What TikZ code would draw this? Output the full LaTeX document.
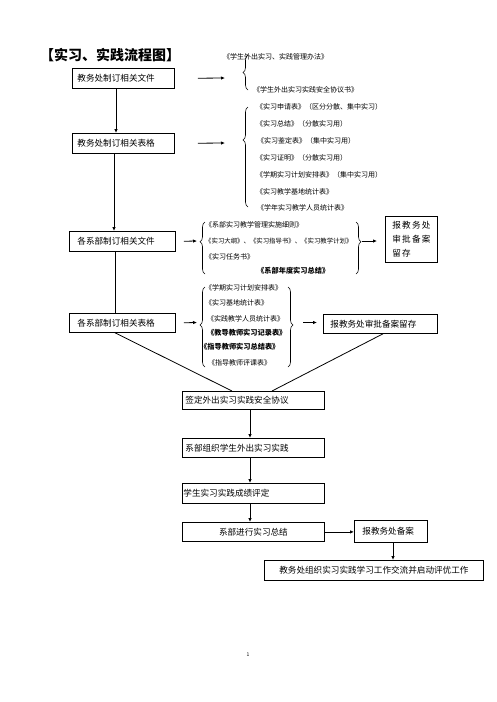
\documentclass[tikz,border=0pt]{standalone}
\usepackage{fontspec}
\setmainfont{Noto Sans CJK SC}
\usetikzlibrary{decorations.pathreplacing,calc,arrows.meta}
\begin{document}
\begin{tikzpicture}[x=1pt,y=-1pt,
 box/.style={draw, line width=0.8pt, anchor=north west, inner ysep=0pt, font=\fontsize{8.6}{10}\selectfont, align=left},
 lbl/.style={anchor=west, inner sep=0pt, font=\fontsize{7}{8}\selectfont},
 blbl/.style={anchor=west, inner sep=0pt, font=\fontsize{7.2}{8}\selectfont\bfseries},
 arr/.style={line width=0.8pt, -{Latex[length=4pt,width=3.5pt]}},
 ln/.style={line width=0.8pt},
 br/.style={line width=0.6pt, decorate, decoration={brace, amplitude=5pt, aspect=#1}}
]
\useasboundingbox (0,0) rectangle (496,702);

\node[anchor=west, inner sep=0pt, font=\fontsize{14}{16}\selectfont\bfseries] (title) at (40,55) {【实习、实践流程图】};

% boxes
\node[box, minimum height=20pt, text width=92pt, inner xsep=5pt] (b1) at (72,68) {教务处制订相关文件};
\node[box, minimum height=20pt, text width=92pt, inner xsep=5pt] (b2) at (72,133) {教务处制订相关表格};
\node[box, minimum height=20pt, text width=90pt, inner xsep=8pt] (b3) at (69,231) {各系部制订相关文件};
\node[box, minimum height=19pt, text width=90pt, inner xsep=8pt] (b4) at (69,313) {各系部制订相关表格};
\node[box, minimum height=46pt, text width=42pt, inner xsep=5pt, font=\fontsize{8.6}{14}\selectfont] (r1) at (385,216) {\hspace*{2pt}报\hspace{1.2pt}教\hspace{1.2pt}务\hspace{1.2pt}处\\\hspace*{2pt}审\hspace{1.2pt}批\hspace{1.2pt}备\hspace{1.2pt}案\\\hspace*{2pt}留\hspace{1.2pt}存};
\node[box, minimum height=19pt, text width=100pt, inner xsep=7pt] (r2) at (323,314) {报教务处审批备案留存};
\node[box, minimum height=18pt, text width=136pt, inner xsep=3pt] (b5) at (182,391) {签定外出实习实践安全协议};
\node[box, minimum height=19pt, text width=136pt, inner xsep=3pt] (b6) at (182,438) {系部组织学生外出实习实践};
\node[box, minimum height=20pt, text width=140pt, inner xsep=1pt] (b7) at (182,483) {学生实习实践成绩评定};
\node[box, minimum height=19pt, text width=134pt, inner xsep=4pt, align=center] (b8) at (182,522) {系部进行实习总结};
\node[box, minimum height=22pt, text width=57pt, inner xsep=8pt] (b9) at (354,520) {报教务处备案};
\node[box, minimum height=20pt, text width=211pt, inner xsep=4pt, align=center] (b10) at (264,560) {教务处组织实习实践学习工作交流并启动评优工作};

% braces
\draw[br=0.5] (248,90) -- (248,55);
\draw[br=0.67] (248,207) -- (248,107);
\draw[br=0.62] (205,274) -- (205,222);
\draw[br=0.38] (356,222) -- (356,274);
\draw[br=0.525] (205,367) -- (205,287);
\draw[br=0.475] (288,287) -- (288,367);

% brace texts
\node[lbl] (t1) at (223,57) {《学生外出实习、实践管理办法》};
\node[lbl] (t2) at (253,90) {《学生外出实习实践安全协议书》};
\node[lbl] (u1) at (256,107) {《实习申请表》（区分分散、集中实习）};
\node[lbl] (u2) at (256,124) {《实习总结》（分散实习用）};
\node[lbl] (u3) at (257,141) {《实习鉴定表》（集中实习用）};
\node[lbl] (u4) at (256,158) {《实习证明》（分散实习用）};
\node[lbl] (u5) at (256,175) {《学期实习计划安排表》（集中实习用）};
\node[lbl] (u6) at (256,192) {《实习教学基地统计表》};
\node[lbl] (u7) at (257,208) {《学年实习教学人员统计表》};

\node[lbl] (v1) at (205,225) {《系部实习教学管理实施细则》};
\node[lbl, font=\fontsize{6.4}{8}\selectfont] (v2) at (205,241) {《实习大纲》、《实习指导书》、《实习教学计划》};
\node[lbl] (v3) at (205,257) {《实习任务书》};
\node[blbl] (v4) at (257,271) {《系部年度实习总结》};

\node[lbl] (w1) at (205,288) {《学期实习计划安排表》};
\node[lbl] (w2) at (205,303) {《实习基地统计表》};
\node[lbl] (w3) at (207,319) {《实践教学人员统计表》};
\node[blbl] (w4) at (207,333) {《教导教师实习记录表》};
\node[blbl] (w5) at (200,347) {《指导教师实习总结表》};
\node[lbl] (w6) at (208,363) {《指导教师评课表》};

\node[anchor=center, inner sep=0pt, font=\fontsize{5}{6}\selectfont] (pg) at (248,655) {1};

% connector end points
\coordinate (c1) at (225,78);
\coordinate (c2) at (225,143);
\coordinate (c3) at (197,241);
\coordinate (c3r) at (362,241);
\coordinate (c4) at (197,322.5);
\coordinate (c4r) at (303,322.5);

% horizontal arrows
\draw[arr, shorten <=23pt] (b1.east) -- (c1);
\draw[arr, shorten <=23pt] (b2.east) -- (c2);
\draw[arr, shorten <=8pt] (b3.east) -- (c3);
\draw[arr, shorten >=8pt] (c3r) -- (c3r -| r1.west);
\draw[arr, shorten <=8pt] (b4.east) -- (c4);
\draw[arr, shorten >=6pt] (c4r) -- (c4r -| r2.west);

% vertical flow
\draw[arr] ($(b1.south west)+(44,0)$) -- ($(b2.north west)+(44,0)$);
\draw[arr] ($(b2.south west)+(42,0)$) -- ($(b3.north west)+(45,0)$);
\draw[ln] ($(b3.south west)+(46,0)$) -- ($(b4.north west)+(46,0)$);
\draw[ln] ($(b4.south west)+(46,0)$) -- ($(b5.north west)+(50,0)$);
\draw[ln] ($(r2.south west)+(60,0)$) -- ($(b5.north west)+(90,0)$);
\draw[arr] ($(b5.south west)+(68,0)$) -- ($(b6.north west)+(68,0)$);
\draw[arr] ($(b6.south west)+(68,0)$) -- ($(b7.north west)+(68,0)$);
\draw[arr] ($(b7.south west)+(68,0)$) -- ($(b8.north west)+(68,0)$);
\draw[arr] (b8.east) -- (b8.east -| b9.west);
\draw[arr] ($(b9.south west)+(39,0)$) -- ($(b10.north west)+(129,0)$);
\end{tikzpicture}
\end{document}
